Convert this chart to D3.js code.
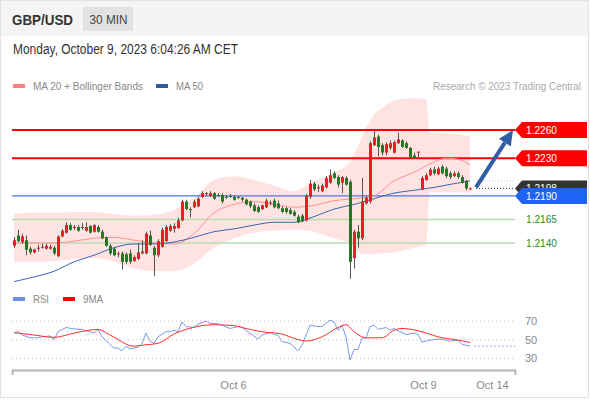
<!DOCTYPE html>
<html>
<head>
<meta charset="utf-8">
<script src="https://d3js.org/d3.v7.min.js"></script>
<style>
  body { margin: 0; background: #fff; }
  svg { display: block; font-family: "Liberation Sans", Arial, sans-serif; }
</style>
</head>
<body>
<div id="svganchor"></div>
<script>
let width = 590, height = 400;

// 30 min candles, GBP/USD
let opens = [1.2137,1.2148,1.2141,1.2143,1.2134,1.2130,1.2134,1.2135,1.2134,1.2134,
  1.2135,1.2126,1.2147,1.2151,1.2159,1.2156,1.2157,1.2156,1.2153,1.2158,
  1.2152,1.2157,1.2152,1.2146,1.2137,1.2134,1.2128,1.2129,1.2128,1.2129,
  1.2121,1.2123,1.2129,1.2129,1.2148,1.2135,1.2127,1.2136,1.2142,1.2153,
  1.2155,1.2156,1.2164,1.2184,1.2176,1.2178,1.2179,1.2189,1.2192,1.2190,
  1.2193,1.2191,1.2191,1.2189,1.2190,1.2189,1.2189,1.2188,1.2186,1.2184,
  1.2180,1.2178,1.2176,1.2178,1.2182,1.2185,1.2182,1.2177,1.2177,1.2175,
  1.2173,1.2168,1.2169,1.2164,1.2189,1.2203,1.2198,1.2195,1.2199,1.2204,
  1.2214,1.2210,1.2204,1.2209,1.2205,1.2124,1.2152,1.2145,1.2182,1.2184,
  1.2244,1.2253,1.2244,1.2236,1.2241,1.2236,1.2246,1.2249,1.2246,1.2241,
  1.2233,1.2237,1.2197,1.2207,1.2212,1.2218,1.2213,1.2221,1.2219,1.2214,
  1.2211,1.2214,1.2210,1.2206,1.2198];
let highs = [1.2146,1.2154,1.2150,1.2148,1.2136,1.2134,1.2138,1.2139,1.2139,1.2138,
  1.2137,1.2148,1.2155,1.2162,1.2161,1.2159,1.2159,1.2161,1.2162,1.2159,
  1.2160,1.2159,1.2154,1.2147,1.2139,1.2136,1.2131,1.2131,1.2130,1.2133,
  1.2127,1.2140,1.2143,1.2152,1.2153,1.2137,1.2144,1.2156,1.2159,1.2160,
  1.2161,1.2167,1.2186,1.2186,1.2178,1.2186,1.2189,1.2195,1.2194,1.2195,
  1.2194,1.2193,1.2193,1.2191,1.2192,1.2191,1.2190,1.2189,1.2187,1.2185,
  1.2182,1.2180,1.2181,1.2187,1.2185,1.2187,1.2185,1.2179,1.2178,1.2177,
  1.2175,1.2170,1.2171,1.2192,1.2207,1.2205,1.2202,1.2203,1.2211,1.2218,
  1.2216,1.2212,1.2211,1.2211,1.2207,1.2154,1.2159,1.2209,1.2190,1.2248,
  1.2259,1.2255,1.2246,1.2247,1.2249,1.2249,1.2257,1.2250,1.2248,1.2242,
  1.2236,1.2237,1.2211,1.2214,1.2220,1.2221,1.2221,1.2223,1.2221,1.2216,
  1.2216,1.2216,1.2212,1.2207,1.2199];
let lows = [1.2135,1.2141,1.2139,1.2127,1.2128,1.2129,1.2131,1.2134,1.2133,1.2133,
  1.2127,1.2125,1.2146,1.2150,1.2153,1.2154,1.2152,1.2154,1.2152,1.2150,
  1.2151,1.2151,1.2144,1.2136,1.2127,1.2126,1.2125,1.2112,1.2118,1.2118,
  1.2120,1.2122,1.2128,1.2128,1.2137,1.2105,1.2125,1.2135,1.2141,1.2152,
  1.2151,1.2155,1.2163,1.2175,1.2167,1.2177,1.2178,1.2188,1.2190,1.2189,
  1.2186,1.2189,1.2182,1.2187,1.2188,1.2185,1.2187,1.2184,1.2180,1.2177,
  1.2173,1.2172,1.2175,1.2177,1.2180,1.2177,1.2176,1.2172,1.2171,1.2170,
  1.2168,1.2161,1.2162,1.2163,1.2187,1.2195,1.2194,1.2194,1.2198,1.2203,
  1.2208,1.2199,1.2193,1.2201,1.2102,1.2113,1.2135,1.2143,1.2181,1.2182,
  1.2243,1.2232,1.2233,1.2233,1.2239,1.2235,1.2245,1.2241,1.2240,1.2230,
  1.2229,1.2231,1.2196,1.2206,1.2211,1.2212,1.2212,1.2213,1.2209,1.2208,
  1.2210,1.2208,1.2203,1.2196,1.2196];
let closes = [1.2143,1.2142,1.2147,1.2133,1.2130,1.2133,1.2135,1.2136,1.2137,1.2136,
  1.2129,1.2147,1.2153,1.2159,1.2154,1.2157,1.2153,1.2157,1.2157,1.2151,
  1.2159,1.2152,1.2145,1.2137,1.2129,1.2127,1.2129,1.2120,1.2120,1.2120,
  1.2125,1.2130,1.2131,1.2150,1.2138,1.2127,1.2142,1.2154,1.2157,1.2158,
  1.2158,1.2164,1.2184,1.2176,1.2175,1.2184,1.2187,1.2193,1.2193,1.2193,
  1.2187,1.2190,1.2184,1.2188,1.2189,1.2186,1.2188,1.2186,1.2181,1.2179,
  1.2174,1.2173,1.2180,1.2185,1.2183,1.2178,1.2177,1.2173,1.2173,1.2171,
  1.2169,1.2162,1.2163,1.2190,1.2203,1.2197,1.2199,1.2201,1.2209,1.2212,
  1.2209,1.2202,1.2210,1.2202,1.2120,1.2152,1.2145,1.2184,1.2188,1.2246,
  1.2252,1.2242,1.2236,1.2245,1.2246,1.2247,1.2250,1.2242,1.2241,1.2231,
  1.2230,1.2237,1.2209,1.2212,1.2218,1.2214,1.2219,1.2214,1.2211,1.2210,
  1.2214,1.2210,1.2204,1.2198,1.2198];

// indicators, sampled at candle index
let bandIdx = [0,5,10,15,20,25,30,35,40,45,50,55,60,65,70,75,80,84,86,88,90,92,95,100,103,104,110,114];
let bandUpper = [1.2171,1.2172,1.2172,1.2173,1.2173,1.2171,1.2169,1.2170,1.2175,1.2188,1.2207,1.2211,1.2207,1.2201,
  1.2195,1.2206,1.2215,1.2226,1.2243,1.2262,1.2276,1.2283,1.2291,1.2294,1.2293,1.2257,1.2256,1.2253];
let bandLower = [1.2120,1.2120,1.2121,1.2123,1.2124,1.2120,1.2113,1.2110,1.2110,1.2118,1.2135,1.2145,1.2151,1.2153,
  1.2154,1.2152,1.2145,1.2139,1.2130,1.2128,1.2128,1.2129,1.2130,1.2135,1.2138,1.2194,1.2194,1.2193];
let ma20Idx = [0,5,10,15,20,25,30,35,40,45,50,55,60,65,70,75,80,85,90,95,100,105,108,111,114];
let ma20 = [1.2140,1.2140,1.2140,1.2142,1.2145,1.2146,1.2143,1.2140,1.2139,1.2150,1.2172,1.2181,1.2184,1.2181,
  1.2178,1.2180,1.2185,1.2187,1.2190,1.2206,1.2215,1.2226,1.2230,1.2229,1.2223];
let ma50Idx = [0,5,10,15,20,25,30,35,40,45,50,55,60,65,70,75,80,85,90,95,100,105,110,114];
let ma50 = [1.2099,1.2104,1.2110,1.2120,1.2127,1.2135,1.2139,1.2139,1.2141,1.2146,1.2152,1.2155,1.2159,1.2162,
  1.2162,1.2168,1.2176,1.2181,1.2187,1.2193,1.2196,1.2199,1.2203,1.2206];

let rsiIdx = [0,1,2,4,6,7,9,10,11,13,15,17,19,20,21,22,25,26,27,28,29,31,32,33,34,35,36,38,39,40,41,42,43,45,46,48,49,51,52,
  54,56,57,59,61,62,64,66,67,69,71,72,74,76,77,79,80,81,82,83,84,85,86,87,88,89,90,91,93,94,95,96,98,100,101,102,104,106,
  107,109,111,112,114];
let rsi = [57,58.5,55,52,52,53,54,50,58.5,63,61.5,61,58.5,57,61,53,41,41,38,43,40,42,46,57,48.5,46,53,58.5,58.5,60,58.5,69,64,63,66.5,70,67.5,67,65.5,
  62,64,63,57,50.5,55,57.5,54.5,48,46,38,44,65.5,64,64,71,69,60,65,53,28,39.5,39.5,51.5,52,64,65.5,61,63,60,62,59.5,55.5,57,55.5,47.5,49.5,50.5,
  50.5,48.5,49.5,45,43];
let maRsiIdx = [0,5,10,15,21,24,30,33,36,40,43,47,50,55,58,62,67,69,73,77,81,83,85,88,92,95,97,102,106,111,114];
let maRsi = [57.5,55,52.5,57,61,55,43,44.5,46,56,61,65,66,65,62,58.5,56,53,48.5,53,63,66,58.5,52,52,60,62,58.5,53,49.5,47];

let levels = [1.2260, 1.2230, 1.2190, 1.2165, 1.2140];
let levelKinds = ["res", "res", "pivot", "sup", "sup"];
let lastPrice = 1.2198;
let tickPos = [54.75, 102.25, 119.5];
let tickLabels = ["Oct 6", "Oct 9", "Oct 14"];
let rsiTicks = [70, 50, 30];

let upColor = "#ee1d23", downColor = "#237a23", wickColor = "#555";
let plotLeft = 12, plotRight = 515;
let priceFormat = d3.format(".4f");

let xScale = d3.scaleLinear()
    .domain([-0.5, 125.25])
    .range([plotLeft, plotRight]);

let yScale = d3.scaleLinear()
    .domain([1.2140, 1.2260])
    .range([243, 130]);

let rsiScale = d3.scaleLinear()
    .domain([30, 70])
    .range([358.3, 321]);

let svg = d3.select("#svganchor")
    .append("svg")
    .attr("width", width)
    .attr("height", height);

// squeeze a text to the width the reference shows
function label(x, y, size, color, str, len) {
    let t = svg.append("text")
        .attr("x", x).attr("y", y)
        .attr("font-size", size)
        .attr("fill", color)
        .text(str);
    if (len) {
        t.attr("textLength", len).attr("lengthAdjust", "spacingAndGlyphs");
    }
    return t;
}

// card + header
svg.append("rect")
    .attr("x", 0.5).attr("y", 0.5)
    .attr("width", width - 2).attr("height", height - 3)
    .attr("fill", "#fff")
    .attr("stroke", "#e2e2e2");

svg.append("rect")
    .attr("x", 1).attr("y", 1)
    .attr("width", width - 3).attr("height", 35)
    .attr("fill", "#f4f4f4");

label(12, 24.5, 15, "#333", "GBP/USD", 61).attr("font-weight", "bold");

svg.append("rect")
    .attr("x", 83).attr("y", 7)
    .attr("width", 50).attr("height", 24)
    .attr("fill", "#e2e2e2");

label(89.5, 23.5, 12.5, "#444", "30 MIN", 38);

label(13, 53.5, 14, "#333", "Monday, October 9, 2023 6:04:26 AM CET", 225);

// legends
function legendItem(x, y, color, str, len) {
    svg.append("rect")
        .attr("x", x).attr("y", y - 6)
        .attr("width", 12).attr("height", 4)
        .attr("fill", color);
    label(x + 20, y, 11, "#888", str, len);
}

legendItem(13, 90, "#ff8080", "MA 20 + Bollinger Bands", 110);
legendItem(156, 90, "#2f5a9e", "MA 50", 27);
legendItem(13, 303, "#6f8fe6", "RSI", 16);
legendItem(63, 303, "#ff0000", "9MA", 20);

label(433, 90, 10.2, "#aaa", "Research \u00a9 2023 Trading Central", 148);

// bollinger band
let band = d3.area()
    .x(function(d, i) { return xScale(bandIdx[i]); })
    .y0(function(d, i) { return yScale(bandLower[i]); })
    .y1(function(d, i) { return yScale(bandUpper[i]); })
    .curve(d3.curveMonotoneX);

svg.append("path")
    .datum(bandIdx)
    .attr("d", band)
    .attr("fill", "#ffe3e3");

// support / resistance lines
levels.forEach(function(v, i) {
    let kind = levelKinds[i];
    let color = kind === "res" ? "#ff0000" : kind === "pivot" ? "#4a78e0" : "#b9dcb2";
    svg.append("line")
        .attr("x1", plotLeft).attr("x2", plotRight)
        .attr("y1", yScale(v)).attr("y2", yScale(v))
        .attr("stroke", color)
        .attr("stroke-width", kind === "res" ? 2 : kind === "pivot" ? 1.2 : 1.5);
});

// moving averages
let ma20Line = d3.line()
    .x(function(d, i) { return xScale(ma20Idx[i]); })
    .y(function(d) { return yScale(d); })
    .curve(d3.curveMonotoneX);

let ma50Line = d3.line()
    .x(function(d, i) { return xScale(ma50Idx[i]); })
    .y(function(d) { return yScale(d); })
    .curve(d3.curveMonotoneX);

svg.append("path")
    .datum(ma20)
    .attr("d", ma20Line)
    .attr("fill", "none")
    .attr("stroke", "#ff9090")
    .attr("stroke-width", 1);

svg.append("path")
    .datum(ma50)
    .attr("d", ma50Line)
    .attr("fill", "none")
    .attr("stroke", "#3f65ad")
    .attr("stroke-width", 1);

// candles
let candles = svg.append("g").selectAll("g")
    .data(closes)
    .enter()
    .append("g");

candles.append("line")
    .attr("x1", function(d, i) { return Math.round(xScale(i)) + 0.5; })
    .attr("x2", function(d, i) { return Math.round(xScale(i)) + 0.5; })
    .attr("y1", function(d, i) { return yScale(highs[i]); })
    .attr("y2", function(d, i) { return yScale(lows[i]); })
    .attr("stroke", wickColor)
    .attr("stroke-width", 1);

candles.append("rect")
    .attr("x", function(d, i) { return Math.round(xScale(i)) - 1; })
    .attr("width", 3)
    .attr("y", function(d, i) { return yScale(Math.max(opens[i], d)); })
    .attr("height", function(d, i) {
        return Math.max(1, Math.abs(yScale(opens[i]) - yScale(d)));
    })
    .attr("fill", function(d, i) { return d >= opens[i] ? upColor : downColor; });

// last price + MA50 dotted extensions
let lastX = xScale(closes.length - 1);
svg.append("line")
    .attr("x1", lastX + 6).attr("x2", plotRight)
    .attr("y1", yScale(lastPrice)).attr("y2", yScale(lastPrice))
    .attr("stroke", "#333")
    .attr("stroke-dasharray", "1,2");

svg.append("line")
    .attr("x1", lastX + 4).attr("x2", plotRight)
    .attr("y1", yScale(ma50[ma50.length - 1])).attr("y2", yScale(ma50[ma50.length - 1]))
    .attr("stroke", "#a9bde6")
    .attr("stroke-dasharray", "1,2");

// target arrow
let ax1 = xScale(115.5), ay1 = yScale(lastPrice) - 1;
let ax2 = xScale(124.75), ay2 = yScale(levels[0]);
let ang = Math.atan2(ay2 - ay1, ax2 - ax1);
let headLen = 15, headW = 7;
let bx = ax2 - headLen * Math.cos(ang), by = ay2 - headLen * Math.sin(ang);

svg.append("line")
    .attr("x1", ax1).attr("y1", ay1)
    .attr("x2", bx).attr("y2", by)
    .attr("stroke", "#2f5ea6")
    .attr("stroke-width", 4);

svg.append("polygon")
    .attr("points", [
        [ax2, ay2],
        [bx + headW * Math.sin(ang), by - headW * Math.cos(ang)],
        [bx - headW * Math.sin(ang), by + headW * Math.cos(ang)]
    ].map(function(p) { return p.join(","); }).join(" "))
    .attr("fill", "#2f5ea6");

// price tags
function tag(v, color) {
    let y = yScale(v);
    svg.append("path")
        .attr("d", "M" + plotRight + "," + y + "L" + (plotRight + 7) + "," + (y - 8) +
            "H587V" + (y + 8) + "H" + (plotRight + 7) + "Z")
        .attr("fill", color);
    label(526, y + 4, 11.5, "#fff", priceFormat(v), 31);
}

tag(levels[0], "#ff0000");
tag(levels[1], "#ff0000");
tag(lastPrice, "#333333");
tag(levels[2], "#1f63f5");

[levels[3], levels[4]].forEach(function(v) {
    label(526, yScale(v) + 4, 11.5, "#2b8a2b", priceFormat(v), 31);
});

// RSI panel
rsiTicks.forEach(function(t) {
    svg.append("line")
        .attr("x1", plotLeft).attr("x2", plotRight)
        .attr("y1", rsiScale(t)).attr("y2", rsiScale(t))
        .attr("stroke", "#c4c4c4")
        .attr("stroke-dasharray", "1,3");
    label(525, rsiScale(t) + 4, 11, "#888", t);
});

let rsiLine = d3.line()
    .x(function(d, i) { return xScale(rsiIdx[i]); })
    .y(function(d) { return rsiScale(d); });

let maRsiLine = d3.line()
    .x(function(d, i) { return xScale(maRsiIdx[i]); })
    .y(function(d) { return rsiScale(d); })
    .curve(d3.curveMonotoneX);

svg.append("path")
    .datum(rsi)
    .attr("d", rsiLine)
    .attr("fill", "none")
    .attr("stroke", "#7b9ae8")
    .attr("stroke-width", 1);

svg.append("line")
    .attr("x1", lastX + 4).attr("x2", plotRight)
    .attr("y1", rsiScale(rsi[rsi.length - 1])).attr("y2", rsiScale(rsi[rsi.length - 1]))
    .attr("stroke", "#6f8fe6")
    .attr("stroke-dasharray", "1.5,2.5");

svg.append("path")
    .datum(maRsi)
    .attr("d", maRsiLine)
    .attr("fill", "none")
    .attr("stroke", "#ff3030")
    .attr("stroke-width", 1);

// time axis
let xAxis = d3.axisBottom(xScale)
    .tickValues(tickPos)
    .tickFormat(function(d, i) { return tickLabels[i]; })
    .tickSizeInner(0)
    .tickSizeOuter(5)
    .tickPadding(11);

let gX = svg.append("g")
    .attr("class", "x axis")
    .attr("transform", "translate(0,370)")
    .call(xAxis);

gX.select(".domain")
    .attr("stroke", "#b5b5b5")
    .attr("stroke-width", 2);

gX.selectAll("text")
    .attr("font-size", 11)
    .attr("font-family", "Liberation Sans, Arial, sans-serif")
    .attr("fill", "#888");
</script>
</body>
</html>
